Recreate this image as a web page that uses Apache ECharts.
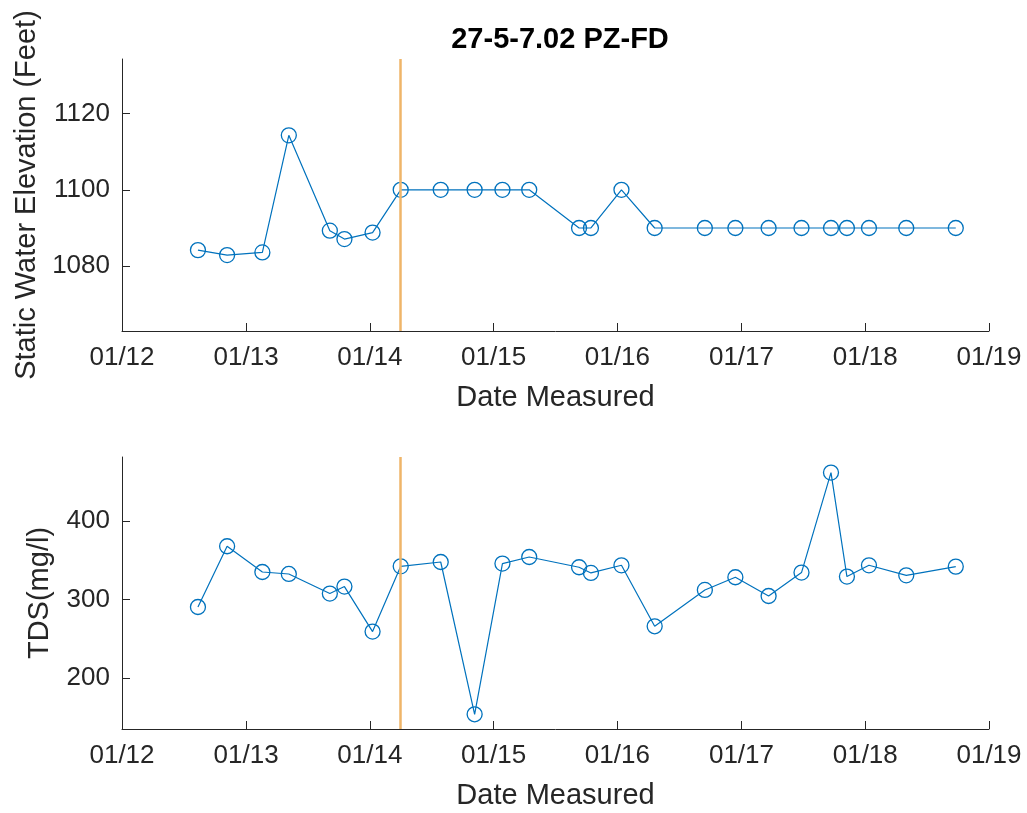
<!DOCTYPE html>
<html>
<head>
<meta charset="utf-8">
<script src="https://cdn.jsdelivr.net/npm/echarts@6/dist/echarts.min.js"></script>
<style>html,body{margin:0;padding:0;background:#fff}#c{width:1027px;height:813px}</style>
</head>
<body>
<div id="c"></div>
<script>
const titleText = '27-5-7.02 PZ-FD';
const dates = ['2012-08-12','2012-11-06','2013-02-18','2013-05-07','2013-09-05','2013-10-18','2014-01-09','2014-04-02','2014-07-29','2014-11-06','2015-01-27','2015-04-16','2015-09-10','2015-10-15','2016-01-13','2016-04-20','2016-09-15','2016-12-14','2017-03-22','2017-06-27','2017-09-22','2017-11-08','2018-01-12','2018-05-02','2018-09-25'];
const elevation = [1084.2,1082.9,1083.6,1114.3,1089.3,1087.1,1088.8,1100,1100,1100,1100,1100,1090,1090,1100,1090,1090,1090,1090,1090,1090,1090,1090,1090,1090];
const tds = [290.5,368.1,335.2,332.7,307.7,316.6,259.1,342.5,348,153.5,346,354.4,341.3,334,343.8,265.9,312.3,328.5,304.6,334.5,462.2,329.4,343.8,331,342.1];
const refDate = '2014-04-02';
const tickYears = [2012,2013,2014,2015,2016,2017,2018,2019];
const elevTicks = [1080,1100,1120];
const tdsTicks = [200,300,400];
const elevRange = [1063, 1134.3];
const tdsRange = [134.7, 482.1];

const toTime = s => { const p = s.split('-').map(Number); return new Date(p[0], p[1]-1, p[2]).getTime(); };
const tickTimes = tickYears.map(y => new Date(y,0,1).getTime());
const fmtX = v => '01/' + String(new Date(v).getFullYear()).slice(2);
const axisColor = '#262626';
const font = 'Liberation Sans, Arial, Helvetica, sans-serif';
const blue = '#0072BD';

function xAxis(gi){
  return {
    type:'value', gridIndex:gi, min:tickTimes[0], max:tickTimes[tickTimes.length-1],
    name:'Date Measured', nameLocation:'middle', nameGap:52,
    nameTextStyle:{color:axisColor,fontSize:29,fontFamily:font},
    axisLine:{onZero:false,lineStyle:{color:axisColor,width:1}},
    axisTick:{inside:true,length:8,customValues:tickTimes,lineStyle:{color:axisColor}},
    axisLabel:{customValues:tickTimes,formatter:fmtX,color:axisColor,fontSize:26,fontFamily:font,margin:14,hideOverlap:false},
    splitLine:{show:false}
  };
}
function yAxis(gi,name,range,ticks,gap){
  return {
    type:'value', gridIndex:gi, min:range[0], max:range[1],
    name:name, nameLocation:'middle', nameGap:gap,
    nameTextStyle:{color:axisColor,fontSize:29,fontFamily:font},
    axisLine:{show:true,onZero:false,lineStyle:{color:axisColor,width:1}},
    axisTick:{show:true,inside:true,length:8,customValues:ticks,lineStyle:{color:axisColor}},
    axisLabel:{customValues:ticks,formatter:v=>String(v),color:axisColor,fontSize:26,fontFamily:font,margin:12},
    splitLine:{show:false}
  };
}
function series(gi,vals){
  return {
    type:'line', xAxisIndex:gi, yAxisIndex:gi,
    data: dates.map((d,i)=>[toTime(d),vals[i]]),
    symbol:'circle', symbolSize:15,
    lineStyle:{color:blue,width:1.2},
    itemStyle:{color:'rgba(0,0,0,0)',borderColor:blue,borderWidth:1.3},
    markLine:{silent:true,symbol:'none',label:{show:false},
      lineStyle:{color:'#EFB569',width:2.5,type:'solid'},
      data:[{xAxis:toTime(refDate)}]},
    z:3
  };
}
const chart = echarts.init(document.getElementById('c'),null,{renderer:'canvas'});
chart.setOption({
  animation:false,
  backgroundColor:'#fff',
  title:{text:titleText,left:555,textAlign:'center',top:20,
    textStyle:{color:'#000',fontSize:29,fontWeight:'bold',fontFamily:font}},
  grid:[
    {left:122,right:38,top:59,height:272,outerBoundsMode:'none',containLabel:false},
    {left:122,right:38,top:457,height:272,outerBoundsMode:'none',containLabel:false}
  ],
  xAxis:[xAxis(0),xAxis(1)],
  yAxis:[yAxis(0,'Static Water Elevation (Feet)',elevRange,elevTicks,81),
         yAxis(1,'TDS(mg/l)',tdsRange,tdsTicks,68)],
  series:[series(0,elevation),series(1,tds)]
});
</script>
</body>
</html>
